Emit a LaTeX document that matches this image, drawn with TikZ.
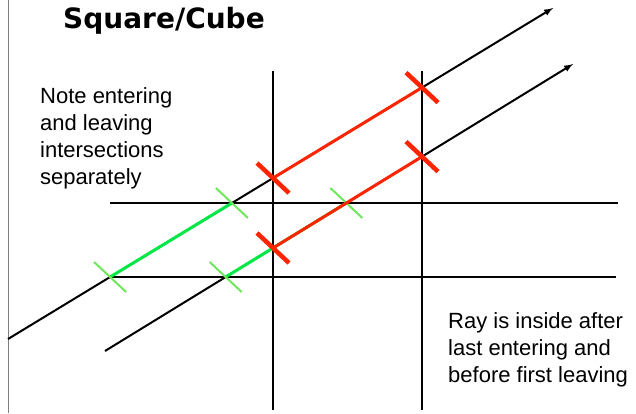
\documentclass[tikz,border=0pt]{standalone}
\usepackage{fontspec}
\usetikzlibrary{calc}
\setmainfont{Liberation Sans}
\newfontfamily\titlefont{DejaVu Sans}

\definecolor{hitred}{RGB}{255,36,0}
\definecolor{hitgreen}{RGB}{0,232,70}
\definecolor{tickgreen}{RGB}{110,232,90}

\begin{document}
\begin{tikzpicture}[x=1pt, y=-1pt, >=latex,
    edge/.style={line width=2pt, black},
    ray/.style={edge, ->},
    inred/.style={line width=3pt, hitred},
    ingreen/.style={line width=3pt, hitgreen},
    redtick/.style={line width=4.5pt, hitred},
    greentick/.style={line width=2pt, tickgreen},
    note/.style={anchor=base west, align=left, inner sep=0pt,
        font=\fontsize{22}{27}\selectfont}]
        \useasboundingbox (0,0) rectangle (636,413);
        % ==== FRAME ====
        \draw[gray, line width=1pt] (8,0) -- (8,413);
        % ==== SLABS ====
        \coordinate (v1t) at (273,71);  \coordinate (v1b) at (273,410);
        \coordinate (v2t) at (422,71);  \coordinate (v2b) at (422,410);
        \coordinate (h1l) at (110,203); \coordinate (h1r) at (618,203);
        \coordinate (h2l) at (112,277); \coordinate (h2r) at (616,277);
        \draw[edge] (v1t) -- (v1b);
        \draw[edge] (v2t) -- (v2b);
        \draw[edge] (h1l) -- (h1r);
        \draw[edge] (h2l) -- (h2r);
        % ==== RAYS ====
        \coordinate (r1s) at (8,339);   \coordinate (r1e) at (553,8);
        \coordinate (r2s) at (105,351); \coordinate (r2e) at (573,64);
        \draw[ray] (r1s) -- (r1e);
        \draw[ray] (r2s) -- (r2e);
        % ==== HITS ====
        \coordinate (g1a) at (intersection of r1s--r1e and h2l--h2r);
        \coordinate (g1b) at (intersection of r1s--r1e and h1l--h1r);
        \coordinate (x1a) at (intersection of r1s--r1e and v1t--v1b);
        \coordinate (x1b) at (intersection of r1s--r1e and v2t--v2b);
        \coordinate (g2a) at (intersection of r2s--r2e and h2l--h2r);
        \coordinate (g2b) at (intersection of r2s--r2e and h1l--h1r);
        \coordinate (x2a) at (intersection of r2s--r2e and v1t--v1b);
        \coordinate (x2b) at (intersection of r2s--r2e and v2t--v2b);
        \draw[ingreen] (g1a) -- (g1b);
        \draw[ingreen, yshift=-1pt] (g2a) -- (g2b);
        \foreach \p in {g1a,g1b,g2a,g2b}
            \draw[greentick] ($(\p)+(-16,-15)$) -- ($(\p)+(16,15)$);
        \draw[inred] (x1a) -- (x1b);
        \draw[inred, yshift=0.5pt] (x2a) -- (x2b);
        \foreach \p in {x1a,x1b,x2a,x2b}
            \draw[redtick] ($(\p)+(-16,-15)$) -- ($(\p)+(16,15)$);
        % ==== TEXT ====
        \node[anchor=base west, inner sep=0pt,
            font=\titlefont\bfseries\fontsize{28}{32}\selectfont]
            (title) at (63,28) {Square/Cube};
        % base anchor sits on the last line
        \node[note] (leftnote) at (40,184)
            {Note entering\\and leaving\\intersections\\separately};
        \node[note] (rightnote) at (448,382)
            {Ray is inside after\\last entering and\\before first leaving};
\end{tikzpicture}
\end{document}
